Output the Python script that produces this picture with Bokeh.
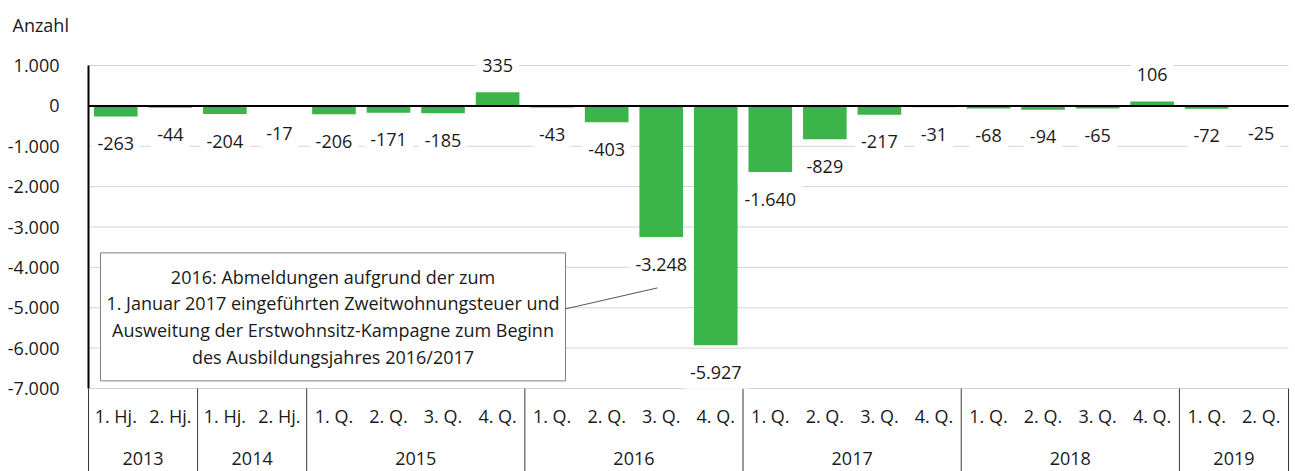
import numpy as np
from bokeh.plotting import figure
from bokeh.models import Range1d, FixedTicker, ColumnDataSource
from bokeh.core.properties import value
from bokeh.embed import file_html
from bokeh.resources import INLINE

# ---------------- data ----------------
years = ["2013", "2014", "2015", "2016", "2017", "2018", "2019"]
periods = [
    ["1. Hj.", "2. Hj."],
    ["1. Hj.", "2. Hj."],
    ["1. Q.", "2. Q.", "3. Q.", "4. Q."],
    ["1. Q.", "2. Q.", "3. Q.", "4. Q."],
    ["1. Q.", "2. Q.", "3. Q.", "4. Q."],
    ["1. Q.", "2. Q.", "3. Q.", "4. Q."],
    ["1. Q.", "2. Q."],
]
values = [-263, -44, -204, -17,
          -206, -171, -185, 335,
          -43, -403, -3248, -5927,
          -1640, -829, -217, -31,
          -68, -94, -65, 106,
          -72, -25]
y_ticks = [1000, 0, -1000, -2000, -3000, -4000, -5000, -6000, -7000]
y_title = "Anzahl"
note_text = ("2016: Abmeldungen aufgrund der zum\n"
             "1. Januar 2017 eingeführten Zweitwohnungsteuer und\n"
             "Ausweitung der Erstwohnsitz-Kampagne zum Beginn\n"
             "des Ausbildungsjahres 2016/2017")

def de(v):
    return f"{v:,}".replace(",", ".")

FONT = "Open Sans"
TXT = "#1a1a1a"
GREEN = "#3bb54a"

n = len(values)
y_top, y_bot = max(y_ticks), min(y_ticks)

# ---------------- figure ----------------
W, H = 1295, 471
border_top = 40
px_per_unit = 323 / 8000.0          # vertical pixels per unit
top_gap, bot_gap = 65 - border_top, 83
yr = Range1d(y_bot - bot_gap / px_per_unit, y_top + top_gap / px_per_unit)
left_border = 82
xs = 1200 / n                        # pixels per category
xr = Range1d(-6 / xs, n + 7 / xs)

p = figure(width=W, height=H, x_range=xr, y_range=yr,
           output_backend="svg", toolbar_location=None,
           x_axis_location=None, min_border_left=left_border,
           min_border_right=0, min_border_top=border_top, min_border_bottom=0,
           title=y_title, title_location="above")
p.outline_line_color = None
p.grid.visible = False
p.title.align = "left"
p.title.offset = 12 - left_border
p.title.text_font = FONT
p.title.text_font_size = "18px"
p.title.text_font_style = "normal"
p.title.text_color = TXT
p.title.standoff = 8

ax = p.yaxis[0]
ax.ticker = FixedTicker(ticks=y_ticks)
ax.major_label_overrides = {t: de(t) for t in y_ticks}
ax.axis_line_color = None
ax.major_tick_line_color = None
ax.minor_tick_line_color = None
ax.major_label_standoff = 17
ax.major_label_text_font = FONT
ax.major_label_text_font_size = "18px"
ax.major_label_text_color = TXT

# gridlines
grid_y = [t for t in y_ticks if t != 0]
p.segment(x0=[0] * len(grid_y), x1=[n] * len(grid_y), y0=grid_y, y1=grid_y,
          line_color="#d4d4d4", line_width=1)

# left axis line
p.segment(x0=[0], x1=[0], y0=[y_top], y1=[y_bot], line_color="black", line_width=2)

# category separators and labels
counts = [len(q) for q in periods]
bounds = np.concatenate([[0], np.cumsum(counts)])
p.segment(x0=bounds, x1=bounds, y0=[y_bot] * len(bounds), y1=[yr.start] * len(bounds),
          line_color="#3a3a3a", line_width=1)

cat_labels = [q for grp in periods for q in grp]
xc = np.arange(n) + 0.5
p.text(x=xc, y=[y_bot] * n, text=cat_labels, y_offset=27,
       text_align="center", text_baseline="middle",
       text_font=value(FONT), text_font_size="18px", text_color=TXT)
year_x = (bounds[:-1] + bounds[1:]) / 2
p.text(x=year_x, y=[y_bot] * len(years), text=years, y_offset=70,
       text_align="center", text_baseline="middle",
       text_font=value(FONT), text_font_size="18px", text_color=TXT)

# bars
src = ColumnDataSource(dict(
    x=xc, v=values,
    lab=[de(v) for v in values],
    off=[27 if v < 0 else -27 for v in values],
))
p.vbar(x="x", top="v", bottom=0, width=0.8, source=src,
       fill_color=GREEN, line_color=None)

# zero line
p.segment(x0=[0], x1=[n], y0=[0], y1=[0], line_color="black", line_width=2)

# note box
bx0, bx1 = (100 - 88) / xs, (565 - 88) / xs
by0, by1 = -(252 - 105) / px_per_unit, -(380 - 105) / px_per_unit
p.quad(left=[bx0], right=[bx1], top=[by0], bottom=[by1],
       fill_color="white", line_color="#7f7f7f", line_width=1)
p.text(x=[(bx0 + bx1) / 2], y=[(by0 + by1) / 2], text=[note_text],
       text_align="center", text_baseline="middle", text_line_height=1.12,
       text_font=value(FONT), text_font_size="18px", text_color=TXT)
p.segment(x0=[bx1], y0=[-(308 - 105) / px_per_unit],
          x1=[(657 - 88) / xs], y1=[-(287 - 105) / px_per_unit],
          line_color="#555555", line_width=1)

# data labels
p.text(x="x", y="v", text="lab", y_offset="off", source=src,
       text_align="center", text_baseline="middle",
       text_font=value(FONT), text_font_size="18px", text_color=TXT,
       background_fill_color="white", padding=(6, 10))

open("out.html", "w").write(file_html(p, INLINE))
